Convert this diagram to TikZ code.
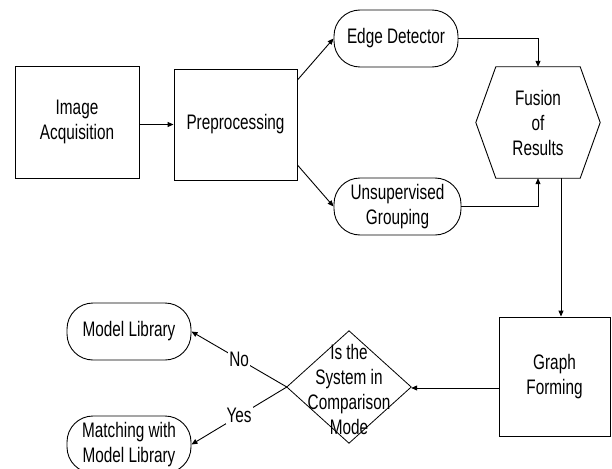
\documentclass[tikz,border=0pt]{standalone}
\usepackage{fontspec}
\setmainfont[FakeStretch=0.73]{Liberation Sans}
\usetikzlibrary{arrows.meta,calc}
\begin{document}
\begin{tikzpicture}[x=1pt,y=-1pt,
  every node/.style={font=\fontsize{21}{25}\selectfont, align=center, inner sep=0pt},
  boxnode/.style={draw, line width=0.9pt, minimum width=#1},
  pill/.style={draw, line width=0.9pt, rounded corners=26pt, minimum width=124pt, minimum height=57pt},
  conn/.style={line width=0.9pt},
  arr/.style={conn, -{Triangle[length=6pt,width=5pt]}},
  lbl/.style={fill=white, inner sep=1pt}]
  \useasboundingbox (0,0) rectangle (612,468);

  % process boxes
  \node[boxnode=124pt, minimum height=112pt] (ia) at (77,122) {Image\\Acquisition};
  \node[boxnode=123pt, minimum height=111pt] (pre) at (235.5,124.5) {Preprocessing};
  \node[boxnode=111pt, minimum height=119pt] (gf) at (554.5,376.5) {Graph\\Forming};

  % terminals
  \node[pill] (ed) at (396,38.5) {Edge Detector};
  \node[pill, minimum width=127pt] (ug) at (397.5,206.5) {Unsupervised\\Grouping};
  \node[pill] (ml) at (129,331.5) {Model Library};
  \node[pill] (mm) at (129,444.5) {Matching with\\Model Library};

  % fusion hexagon
  \node[minimum width=124pt, minimum height=111pt] (fus) at (538,122.5) {Fusion\\of\\Results};
  \draw[line width=0.9pt] (fus.west) -- ($(fus.north west)+(20,0)$) -- ($(fus.north east)+(-20,0)$)
     -- (fus.east) -- ($(fus.south east)+(-20,0)$) -- ($(fus.south west)+(20,0)$) -- cycle;

  % decision diamond
  \node[minimum width=124pt, minimum height=112pt] (dia) at (349,387) {};
  \draw[line width=0.8pt] (dia.north) -- (dia.east) -- (dia.south) -- (dia.west) -- cycle;
  \node (diatext) at (349,389) {Is the\\System in\\Comparison\\Mode};

  % connectors
  \draw[arr] (ia.east |- pre.west) -- (pre.west);
  \draw[arr] ($(pre.east)+(0,-44.5)$) -- (ed.west);
  \draw[arr] ($(pre.east)+(0,40.5)$) -- (ug.west);
  \draw[arr] (ed.east) -| (fus.north);
  \draw[arr] (ug.east) -| (fus.south);
  \coordinate (fout) at ($(fus.south)+(23,0)$);
  \draw[arr] (fout) -- (fout |- gf.north);
  \coordinate (gout) at ($(gf.west)+(0,11.5)$);
  \draw[arr] (gout) -- (gout -| dia.east);
  \draw[arr] (dia.west) -- node[lbl] {No} (ml.east);
  \draw[arr] (dia.west) -- node[lbl] {Yes} (mm.east);
\end{tikzpicture}
\end{document}
